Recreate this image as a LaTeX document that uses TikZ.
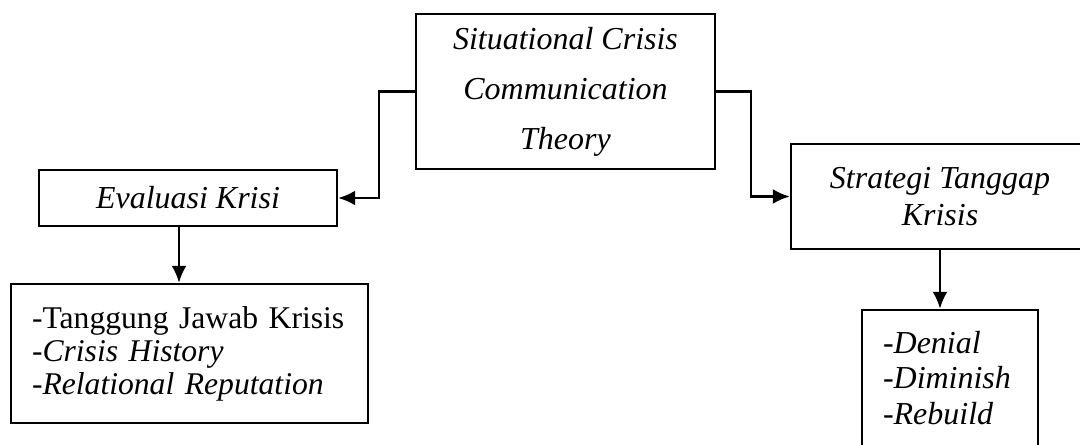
\documentclass[tikz,border=0pt]{standalone}
\usepackage{fontspec}
\setmainfont{Liberation Serif}
\usepackage{tikz}
\usetikzlibrary{arrows.meta,calc}

\tikzset{
  box/.style={draw, line width=1.4pt, align=center, inner sep=0pt, font=\fontsize{18.2}{28.4}\selectfont\itshape},
  listbox/.style={draw, line width=1.4pt, align=left, inner sep=0pt, font=\fontsize{18}{18.8}\selectfont},
  arr/.style={line width=1.4pt, -{Latex[length=3.4mm,width=3mm]}}
}

\begin{document}
\begin{tikzpicture}[x=0.02cm,y=-0.02cm]
\useasboundingbox (0,0) rectangle (1080,445);
\node [box, minimum width=5.98cm, minimum height=3.1cm] (scct) at (565.5,91.5) {Situational Crisis\\Communication\\Theory};
\node [box, minimum width=5.96cm, minimum height=1.12cm] (eval) at (188,198) {Evaluasi Krisi};
\node [box, minimum width=5.96cm, minimum height=2.1cm, font=\fontsize{18.2}{21.5}\selectfont\itshape] (strat) at (940,196.5) {Strategi Tanggap\\Krisis};
\node [listbox, minimum width=7.14cm, minimum height=2.78cm, text width=6.3cm] (faktor) at (189.5,353.5) {\mbox{-Tanggung Jawab Krisis}\\\textit{-Crisis History}\\\textit{-Relational Reputation}};
\node [listbox, minimum width=3.52cm, minimum height=2.72cm, text width=2.68cm, font=\fontsize{18.2}{20.2}\selectfont] (respon) at (950,378) {\textit{-Denial}\\\textit{-Diminish}\\\textit{-Rebuild}};
\coordinate (evalout) at ($(eval.south)+(-9,0)$);
\draw [arr] (scct.west) -- ++(-36,0) |- (eval.east);
\draw [arr] (scct.east) -- ++(35,0) |- (strat.west);
\draw [arr] (evalout) -- (evalout |- faktor.north);
\draw [arr] (strat.south) -- (strat.south |- respon.north);
\end{tikzpicture}
\end{document}
